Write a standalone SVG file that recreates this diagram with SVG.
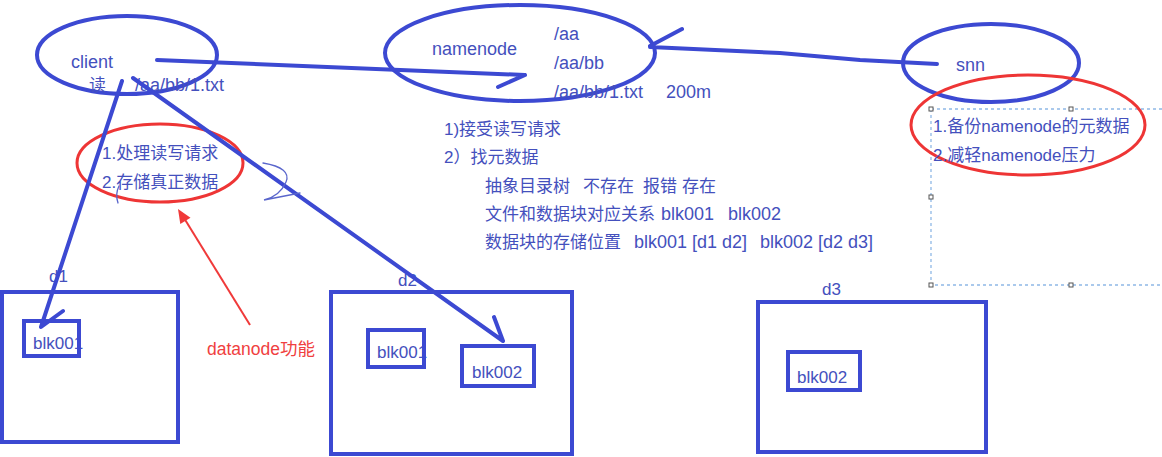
<svg xmlns="http://www.w3.org/2000/svg" width="1162" height="457" viewBox="0 0 1162 457">
<style>
.t{font-family:"Liberation Sans","Noto Sans CJK SC",sans-serif;font-size:17px;fill:#4450bd}
.L{font-size:18px}
.r{font-family:"Liberation Sans","Noto Sans CJK SC",sans-serif;font-size:17.5px;fill:#f04040}
.bl{fill:none;stroke:#3c49d2;stroke-width:4;stroke-linecap:round;stroke-linejoin:round}
.box{fill:none;stroke:#3c49d2;stroke-width:4}
.red{fill:none;stroke:#ee3535;stroke-width:3}
.thin{fill:none;stroke:#5a66cc;stroke-width:1.3;stroke-linecap:round}
.h{fill:#fff;stroke:#555;stroke-width:1}
</style>
<rect width="1162" height="457" fill="#ffffff"/>

<g id="selection">
<path d="M931,109 H1162 M931,109 V285 H1162" fill="none" stroke="#8fb8e6" stroke-width="1.3" stroke-dasharray="3,3"/>
<rect class="h" x="929" y="107" width="4" height="4"/>
<rect class="h" x="1069" y="107" width="4" height="4"/>
<rect class="h" x="929" y="195" width="4" height="4"/>
<rect class="h" x="929" y="283" width="4" height="4"/>
<rect class="h" x="1069" y="283" width="4" height="4"/>
</g>

<g id="client">
<ellipse class="bl" cx="127" cy="55" rx="90" ry="39"/>
<text class="t L" x="71" y="68">client</text>
<text class="t" x="89" y="91">读</text>
<text class="t L" x="135" y="91">/aa/bb/1.txt</text>
</g>

<g id="client-note">
<ellipse class="red" cx="160" cy="163" rx="83" ry="39"/>
<text class="t" x="102" y="159">1.处理读写请求</text>
<text class="t" x="102" y="188">2.存储真正数据</text>
<path class="thin" d="M119,186 Q115,194 118,203"/>
</g>

<g id="namenode">
<ellipse class="bl" cx="520" cy="53" rx="135" ry="48"/>
<text class="t L" x="432" y="55">namenode</text>
<text class="t L" x="554" y="40">/aa</text>
<text class="t L" x="554" y="69">/aa/bb</text>
<text class="t L" x="554" y="98">/aa/bb/1.txt</text>
<text class="t L" x="666" y="98">200m</text>
</g>

<g id="namenode-notes">
<text class="t" x="444" y="135">1)接受读写请求</text>
<text class="t" x="444" y="163">2）找元数据</text>
<text class="t" y="192"><tspan x="485">抽象目录树</tspan><tspan x="583">不存在</tspan><tspan x="643">报错</tspan><tspan x="682">存在</tspan></text>
<text class="t" y="220"><tspan x="485">文件和数据块对应关系</tspan><tspan x="661" class="L">blk001</tspan><tspan x="728" class="L">blk002</tspan></text>
<text class="t" y="248"><tspan x="485">数据块的存储位置</tspan><tspan x="634" class="L">blk001 [d1 d2]</tspan><tspan x="760" class="L">blk002 [d2 d3]</tspan></text>
</g>

<g id="snn">
<ellipse class="bl" cx="991" cy="63" rx="88" ry="39"/>
<text class="t L" x="956" y="71">snn</text>
</g>

<g id="snn-note">
<ellipse class="red" cx="1028" cy="125" rx="117" ry="50"/>
<text class="t" x="933" y="132">1.备份namenode的元数据</text>
<text class="t" x="933" y="161">2.减轻namenode压力</text>
</g>

<g id="d1">
<text class="t" x="49" y="282">d1</text>
<rect class="box" x="2" y="292" width="176" height="150"/>
<text class="t" x="33" y="349">blk001</text>
<rect class="box" x="24" y="321" width="55" height="35"/>
</g>

<g id="d2">
<text class="t" x="398" y="286">d2</text>
<rect class="box" x="331" y="292" width="241" height="162"/>
<text class="t" x="377" y="358">blk001</text>
<rect class="box" x="368" y="330" width="56" height="37"/>
<rect class="box" x="462" y="346" width="72" height="40"/>
<text class="t" x="472" y="378">blk002</text>
</g>

<g id="d3">
<text class="t" x="822" y="295">d3</text>
<rect class="box" x="758" y="302" width="228" height="150"/>
<rect class="box" x="788" y="352" width="72" height="38"/>
<text class="t" x="797" y="383">blk002</text>
</g>

<g id="datanode-label">
<text class="r" x="207" y="355">datanode功能</text>
</g>

<g id="connectors">
<path class="bl" d="M157,60 L525,75 M525,75 L498,87"/>
<path class="bl" d="M937,64 L860,60 L780,53 L650,47 M650,46 L682,29"/>
<path class="bl" d="M122,81 L41,327 L63,311"/>
<path class="bl" d="M133,78 L503,341 M503,341 L494,317"/>
<path class="thin" d="M263,163 Q292,168 286,182 Q280,196 264,200 L300,193"/>
<path d="M250,325 L184,218" fill="none" stroke="#f03a3a" stroke-width="2"/>
<polygon points="178,209 190.5,217.7 180.3,224.1" fill="#f03a3a"/>
</g>
</svg>
